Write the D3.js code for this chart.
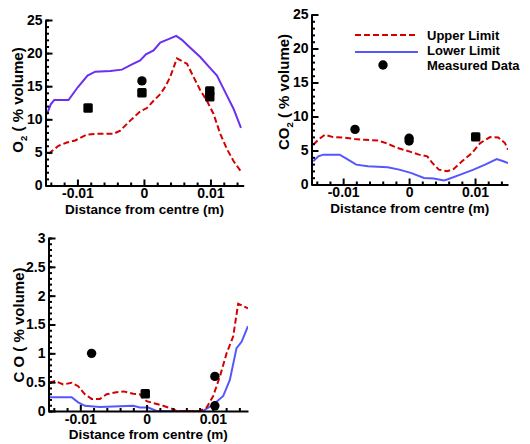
<!DOCTYPE html>
<html>
<head>
<meta charset="utf-8">
<script src="https://cdn.jsdelivr.net/npm/d3@7"></script>
<style>
  body { margin: 0; background: #fff; }
  text { font-family: "Liberation Sans", Arial, sans-serif; font-weight: bold; }
</style>
</head>
<body>
<div id="chart"></div>
<script>
// ---- data ----
// O2 panel
const o2Upper = [
  [-0.01434, 4.8], [-0.01284, 6.0], [-0.01158, 6.5], [-0.01033, 6.8], [-0.00857, 7.7],
  [-0.00707, 7.8], [-0.00457, 7.8], [-0.00356, 8.3], [-0.00206, 9.8], [-0.00056, 11.2],
  [0.00045, 11.7], [0.00145, 12.8], [0.00245, 13.8], [0.00320, 14.9], [0.00395, 16.4],
  [0.00496, 19.2], [0.00571, 18.8], [0.00647, 18.4], [0.00746, 16.4], [0.00847, 14.4],
  [0.00947, 12.8], [0.01047, 10.8], [0.01147, 7.8], [0.01248, 5.5], [0.01347, 3.7],
  [0.01459, 2.1]
];
const o2Lower = [
  [-0.01459, 10.8], [-0.01399, 12.3], [-0.01349, 12.9], [-0.01134, 12.9], [-0.00998, 14.8],
  [-0.00848, 16.6], [-0.00732, 17.2], [-0.00507, 17.3], [-0.00331, 17.5], [-0.00180, 18.3],
  [-0.00056, 18.9], [0.00030, 19.8], [0.00145, 20.4], [0.00245, 21.6], [0.00370, 22.1],
  [0.00486, 22.6], [0.00571, 22.0], [0.00696, 20.8], [0.00847, 19.4], [0.00972, 18.0],
  [0.01098, 16.6], [0.01222, 14.1], [0.01347, 11.6], [0.01459, 8.7]
];
const o2Circles = [[-0.0003, 15.8]];
const o2Squares = [[-0.0084, 11.7], [-0.0003, 14.0], [0.0099, 14.3], [0.0099, 13.4]];

// CO2 panel
const co2Upper = [
  [-0.01453, 5.85], [-0.01377, 6.58], [-0.01278, 7.31], [-0.01152, 6.97], [-0.01002, 6.92],
  [-0.00827, 6.68], [-0.00677, 6.58], [-0.00475, 6.48], [-0.00350, 6.09], [-0.00174, 5.36],
  [0.00000, 4.87], [0.00150, 4.39], [0.00276, 4.14], [0.00352, 3.17], [0.00451, 2.19],
  [0.00577, 1.95], [0.00677, 2.29], [0.00803, 3.41], [0.00953, 4.63], [0.01078, 6.09],
  [0.01229, 6.97], [0.01353, 6.92], [0.01454, 6.09], [0.01500, 5.12]
];
const co2Lower = [
  [-0.01453, 3.41], [-0.01377, 4.14], [-0.01302, 4.39], [-0.01053, 4.39], [-0.00926, 3.65],
  [-0.00802, 2.92], [-0.00626, 2.68], [-0.00325, 2.53], [-0.00150, 2.19], [0.00026, 1.71],
  [0.00226, 0.97], [0.00376, 0.88], [0.00526, 0.58], [0.00577, 0.73], [0.00777, 1.46],
  [0.00977, 2.19], [0.01153, 2.92], [0.01329, 3.75], [0.01429, 3.41], [0.01500, 3.17]
];
const co2Circles = [[-0.0082, 8.1], [0.0000, 6.8], [0.0000, 6.4]];
const co2Squares = [[0.0101, 7.0]];

// CO panel
const coUpper = [
  [-0.01469, 0.49], [-0.01383, 0.52], [-0.01258, 0.46], [-0.01131, 0.49], [-0.01032, 0.43],
  [-0.00931, 0.29], [-0.00830, 0.21], [-0.00704, 0.21], [-0.00603, 0.29], [-0.00478, 0.32],
  [-0.00353, 0.34], [-0.00202, 0.30], [-0.00101, 0.29], [0.00000, 0.17], [0.00125, 0.13],
  [0.00250, 0.09], [0.00377, 0.04], [0.00452, 0.0], [0.00804, 0.0], [0.00905, 0.06],
  [0.01005, 0.26], [0.01106, 0.60], [0.01207, 1.00], [0.01306, 1.29], [0.01367, 1.75],
  [0.01382, 1.86], [0.01457, 1.82], [0.01530, 1.78]
];
const coLower = [
  [-0.01469, 0.24], [-0.01131, 0.24], [-0.01032, 0.15], [-0.00931, 0.09], [-0.00704, 0.07],
  [-0.00202, 0.09], [-0.00101, 0.06], [0.00024, 0.06], [0.00151, 0.0], [0.00854, 0.0],
  [0.00905, 0.04], [0.01005, 0.11], [0.01156, 0.26], [0.01256, 0.54], [0.01357, 1.09],
  [0.01433, 1.20], [0.01530, 1.47]
];
const coCircles = [[-0.0083, 1.0], [0.0103, 0.6], [0.0103, 0.09]];
const coSquares = [[-0.0002, 0.3]];

const xTicks = [-0.01, 0, 0.01];
const legendLabels = ["Upper Limit", "Lower Limit", "Measured Data"];

// ---- svg ----
const svg = d3.select("#chart").append("svg")
    .attr("width", 530)
    .attr("height", 444);

svg.append("rect").attr("width", 530).attr("height", 444).attr("fill", "#fff");

const fmt = d => String(+(+d).toFixed(4));

function drawPanel(p) {
    const x = d3.scaleLinear().domain(p.xDomain).range([p.left, p.right]);
    const y = d3.scaleLinear().domain(p.yDomain).range([p.bottom, p.top]);

    const g = svg.append("g");

    // clip
    svg.append("clipPath").attr("id", p.id + "-clip")
      .append("rect")
        .attr("x", p.left).attr("y", p.top - 5)
        .attr("width", p.right - p.left).attr("height", p.bottom - p.top + 5);

    const line = d3.line().x(d => x(d[0])).y(d => y(d[1]));

    const plot = g.append("g").attr("clip-path", `url(#${p.id}-clip)`);

    plot.append("path")
        .datum(p.lower)
        .attr("fill", "none")
        .attr("stroke", p.lowerColor)
        .attr("stroke-width", 2)
        .attr("d", line);

    plot.append("path")
        .datum(p.upper)
        .attr("fill", "none")
        .attr("stroke", "#d40000")
        .attr("stroke-width", 2)
        .attr("stroke-dasharray", "6,3")
        .attr("d", line);

    // measured data
    g.selectAll(null).data(p.circles).join("circle")
        .attr("cx", d => x(d[0]))
        .attr("cy", d => y(d[1]))
        .attr("r", 4.7)
        .attr("fill", "#000");

    g.selectAll(null).data(p.squares).join("rect")
        .attr("x", d => x(d[0]) - 4.7)
        .attr("y", d => y(d[1]) - 4.7)
        .attr("width", 9.4).attr("height", 9.4)
        .attr("rx", 1.5)
        .attr("fill", "#000");

    // minor ticks
    const xMinor = d3.range(-7, 8).map(i => i * 0.002).filter(v => Math.abs(v * 100 - Math.round(v * 100)) > 1e-9);
    g.append("g")
        .attr("transform", `translate(0,${p.bottom})`)
        .call(d3.axisBottom(x).tickValues(xMinor).tickSize(-3).tickFormat(""))
        .call(a => a.select(".domain").remove())
        .call(a => a.selectAll("line").attr("stroke-width", 2));

    const nMinor = Math.round(p.yDomain[1] / p.yMinor);
    const yMinor = d3.range(0, nMinor + 1).map(i => i * p.yMinor);
    g.append("g")
        .attr("transform", `translate(${p.left},0)`)
        .call(d3.axisLeft(y).tickValues(yMinor).tickSize(-3.5).tickFormat(""))
        .call(a => a.select(".domain").remove())
        .call(a => a.selectAll("line").attr("stroke-width", 2));

    // major axes
    g.append("g")
        .attr("transform", `translate(0,${p.bottom})`)
        .call(d3.axisBottom(x).tickValues(xTicks).tickSize(-6).tickSizeOuter(0).tickPadding(3).tickFormat(fmt))
        .call(a => a.select(".domain").attr("stroke-width", 2))
        .call(a => a.selectAll("line").attr("stroke-width", 2))
        .call(a => a.selectAll("text").attr("font-size", 14).attr("fill", "#000")
            .attr("font-family", "Liberation Sans, Arial, sans-serif"));

    const yMajor = d3.range(0, Math.round(p.yDomain[1] / p.yStep) + 1).map(i => i * p.yStep);
    g.append("g")
        .attr("transform", `translate(${p.left},0)`)
        .call(d3.axisLeft(y).tickValues(yMajor).tickSize(-7).tickSizeOuter(0).tickPadding(3).tickFormat(fmt))
        .call(a => a.select(".domain").attr("stroke-width", 2))
        .call(a => a.selectAll("line").attr("stroke-width", 2))
        .call(a => a.selectAll("text").attr("font-size", 14).attr("fill", "#000")
            .attr("font-family", "Liberation Sans, Arial, sans-serif"));

    // axis titles
    g.append("text")
        .attr("x", (p.left + p.right) / 2)
        .attr("y", p.bottom + 28)
        .attr("text-anchor", "middle")
        .attr("font-size", 13.5)
        .text("Distance from centre (m)");

    const yl = g.append("text")
        .attr("transform", `translate(${p.yLabelX},${p.yLabelY}) rotate(-90)`)
        .attr("text-anchor", "middle")
        .attr("font-size", 15);
    yl.append("tspan").text(p.yLabel[0]);
    if (p.yLabel[1]) {
        yl.append("tspan").attr("font-size", 9.5).attr("dy", 4).text(p.yLabel[1]);
        yl.append("tspan").attr("dy", -4).text(p.yLabel[2]);
    }
}

drawPanel({
    id: "o2", left: 45.5, right: 243.7, top: 20, bottom: 185.5,
    xDomain: [-0.0148, 0.015], yDomain: [0, 25], yStep: 5, yMinor: 1,
    upper: o2Upper, lower: o2Lower, circles: o2Circles, squares: o2Squares,
    lowerColor: "#6a2ff0", yLabel: ["O", "2", " ( % volume)"], yLabelX: 23, yLabelY: 100
});

drawPanel({
    id: "co2", left: 311.5, right: 508, top: 14.5, bottom: 184.5,
    xDomain: [-0.0148, 0.015], yDomain: [0, 25], yStep: 5, yMinor: 1,
    upper: co2Upper, lower: co2Lower, circles: co2Circles, squares: co2Squares,
    lowerColor: "#5656ff", yLabel: ["CO", "2", " ( % volume)"], yLabelX: 289, yLabelY: 92
});

drawPanel({
    id: "co", left: 48.5, right: 248, top: 238, bottom: 411,
    xDomain: [-0.0148, 0.0153], yDomain: [0, 3], yStep: 0.5, yMinor: 0.1,
    upper: coUpper, lower: coLower, circles: coCircles, squares: coSquares,
    lowerColor: "#5656ff", yLabel: ["C O ( % volume)"], yLabelX: 24, yLabelY: 325
});

// legend (in CO2 panel)
const legend = svg.append("g");
legend.append("line")
    .attr("x1", 355).attr("x2", 418).attr("y1", 35).attr("y2", 35)
    .attr("stroke", "#d40000").attr("stroke-width", 2).attr("stroke-dasharray", "6,3");
legend.append("line")
    .attr("x1", 355).attr("x2", 418).attr("y1", 52).attr("y2", 52)
    .attr("stroke", "#5656ff").attr("stroke-width", 2);
legend.append("circle")
    .attr("cx", 383).attr("cy", 65).attr("r", 4.7).attr("fill", "#000");
legend.selectAll(null).data(legendLabels).join("text")
    .attr("x", 427)
    .attr("y", (d, i) => [39.5, 55, 70][i])
    .attr("font-size", 13)
    .text(d => d);
</script>
</body>
</html>
